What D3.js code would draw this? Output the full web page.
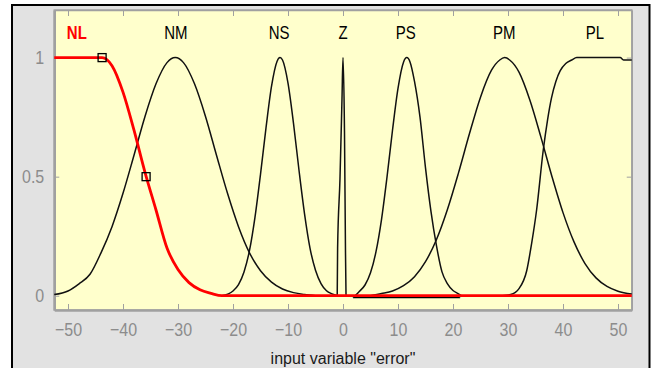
<!DOCTYPE html>
<html>
<head>
<meta charset="utf-8">
<title>input variable error</title>
<script src="https://cdn.jsdelivr.net/npm/d3@7"></script>
<style>
body { margin: 0; background: #fff; }
svg { display: block; font-family: "Liberation Sans", Arial, sans-serif; }
.axis path, .axis line { stroke: #a0a0a0; }
.axis path { stroke-width: 2.5; }
.axis text { fill: #8c8c8c; font-size: 16px; transform: scaleY(1.15); transform-box: fill-box; transform-origin: center; }
.mf { fill: none; stroke: #111; stroke-width: 1.5; }
.mflabel { font-size: 15px; text-anchor: middle; transform: scaleY(1.2); transform-box: fill-box; transform-origin: center; }
</style>
</head>
<body>
<script>
// ticks
var xTicks = [-50, -40, -30, -20, -10, 0, 10, 20, 30, 40, 50];
var yTicks = [0, 0.5, 1];

// membership functions
var mfNames  = ["NL", "NM", "NS", "Z", "PS", "PM", "PL"];
var mfLabelX = [-48.4, -30.4, -11.6, 0, 11.4, 29.3, 45.8];

var nlX = [-52.5, -43.8, -42, -40, -38, -36, -34, -32, -30, -28, -26, -24, -22, 52.5];
var nlY = [1, 1, 0.966, 0.855, 0.695, 0.518, 0.36, 0.2, 0.11, 0.055, 0.025, 0.01, 0, 0];

var nmX = [-52.5, -50, -48, -46, -44, -42, -40, -38, -36, -34, -32, -30.5, -29, -27, -25, -23, -21, -19, -17, -15, -13, -11, -9, -7, -5];
var nmY = [0.005, 0.02, 0.05, 0.09, 0.18, 0.29, 0.43, 0.59, 0.753, 0.89, 0.979, 1, 0.979, 0.89, 0.753, 0.59, 0.43, 0.29, 0.18, 0.105, 0.057, 0.028, 0.013, 0.005, 0];

var nsX = [-22, -20, -19, -18, -17, -16, -15, -14, -13, -12, -11.45, -11, -10, -9, -8, -7, -6, -5, -4, -3, -2, -1];
var nsY = [0, 0.02, 0.047, 0.1, 0.19, 0.33, 0.51, 0.705, 0.879, 0.984, 1, 0.99, 0.893, 0.724, 0.527, 0.345, 0.2, 0.107, 0.051, 0.021, 0.008, 0];

var zX = [-1.05, -0.98, -0.55, -0.18, 0, 0.27, 0.45, 0.55];
var zY = [0, 0.2, 0.49, 0.83, 1, 0.69, 0.19, 0];

var psX = [2.2, 3, 4, 5, 6, 7, 8, 9, 10, 11, 11.6, 12.2, 13, 14, 15, 16, 17, 18, 19, 20, 21, 21.5];
var psY = [0, 0.019, 0.045, 0.096, 0.185, 0.32, 0.498, 0.695, 0.871, 0.981, 1, 0.981, 0.9, 0.75, 0.537, 0.353, 0.209, 0.1, 0.05, 0.022, 0.008, 0];

var pmX = [5, 7, 9, 11, 13, 15, 17, 19, 21, 23, 25, 27, 28.5, 29.4, 30.3, 32, 34, 36, 38, 40, 42, 44, 46, 48, 50, 52.5];
var pmY = [0, 0.009, 0.02, 0.042, 0.08, 0.143, 0.236, 0.363, 0.516, 0.681, 0.834, 0.947, 0.99, 1, 0.99, 0.939, 0.82, 0.665, 0.5, 0.349, 0.226, 0.135, 0.075, 0.039, 0.019, 0.007];

var plX = [29, 30.5, 32, 33.4, 34.3, 35.2, 36.4, 37.2, 37.9, 38.7, 39.5, 40.5, 41.6, 42.5, 50.4, 51, 52.5];
var plY = [0, 0.005, 0.03, 0.105, 0.22, 0.36, 0.61, 0.74, 0.83, 0.9, 0.945, 0.975, 0.99, 1, 1, 0.99, 0.99];

// square handles on the selected (NL) curve
var handleX = [-43.8, -35.8];
var handleY = [1, 0.5];

// highlighted span along zero
var spanX = [1.8, 21.3];

var W = 657, H = 368;
var plot = {left: 54.25, right: 631.75, top: 10, bottom: 310};

var svg = d3.select("body").append("svg").attr("width", W).attr("height", H);

// outer frame
svg.append("rect").attr("x", 12).attr("y", 5).attr("width", 637.5).attr("height", 400)
  .attr("fill", "#e2e2e2").attr("stroke", "#000").attr("stroke-width", 2);

var x = d3.scaleLinear().domain([-52.5, 52.5]).range([plot.left, plot.right]);
var y = d3.scaleLinear().domain([-0.06, 1.2]).range([plot.bottom, plot.top]);

svg.append("rect").attr("x", plot.left).attr("y", plot.top)
  .attr("width", plot.right - plot.left).attr("height", plot.bottom - plot.top)
  .attr("fill", "#ffffcc").attr("stroke", "#a8a8a8").attr("stroke-width", 1.5);

// axes, ticks pointing inwards
svg.append("g").attr("class", "axis")
  .attr("transform", "translate(0," + plot.bottom + ")")
  .call(d3.axisBottom(x).tickValues(xTicks).tickSizeInner(-6).tickSizeOuter(0).tickPadding(14));
svg.append("g").attr("class", "axis")
  .attr("transform", "translate(0," + plot.top + ")")
  .call(d3.axisTop(x).tickValues(xTicks).tickSizeInner(-6).tickSizeOuter(0).tickFormat(""))
  .select(".domain").style("stroke-width", 1.5);
svg.append("g").attr("class", "axis")
  .attr("transform", "translate(" + plot.left + ",0)")
  .call(d3.axisLeft(y).tickValues(yTicks).tickSizeInner(-5).tickSizeOuter(0).tickPadding(10).tickFormat(d3.format("")));
svg.append("g").attr("class", "axis")
  .attr("transform", "translate(" + plot.right + ",0)")
  .call(d3.axisRight(y).tickValues(yTicks).tickSizeInner(-5).tickSizeOuter(0).tickFormat(""))
  .select(".domain").style("stroke-width", 1.5);

var line = d3.line().x(function(d) { return x(d[0]); }).y(function(d) { return y(d[1]); })
  .curve(d3.curveMonotoneX);
function pairs(xs, ys) { return xs.map(function(v, i) { return [v, ys[i]]; }); }

// black span under the zero line
svg.append("line").attr("x1", x(spanX[0])).attr("x2", x(spanX[1]))
  .attr("y1", y(0) + 1.5).attr("y2", y(0) + 1.5)
  .attr("stroke", "#000").attr("stroke-width", 2);
spanX.forEach(function(v) {
  svg.append("rect").attr("x", x(v) - 1).attr("y", y(0) - 0.5).attr("width", 2).attr("height", 2).attr("fill", "#33cccc");
});

var blackMfs = [[nmX, nmY], [nsX, nsY], [zX, zY], [psX, psY], [pmX, pmY], [plX, plY]];
blackMfs.forEach(function(m) {
  svg.append("path").datum(pairs(m[0], m[1])).attr("class", "mf").attr("d", line);
});

svg.append("path").datum(pairs(nlX, nlY)).attr("fill", "none")
  .attr("stroke", "#ff0000").attr("stroke-width", 2.8).attr("d", line);

handleX.forEach(function(v, i) {
  svg.append("rect").attr("x", x(v) - 4).attr("y", y(handleY[i]) - 4)
    .attr("width", 8).attr("height", 8)
    .attr("fill", "none").attr("stroke", "#000").attr("stroke-width", 1.3);
});

// mf names
mfNames.forEach(function(n, i) {
  svg.append("text").attr("class", "mflabel")
    .attr("x", x(mfLabelX[i])).attr("y", 33).attr("dy", "0.35em")
    .attr("fill", i === 0 ? "#ff0000" : "#000")
    .style("font-weight", i === 0 ? "bold" : "normal")
    .text(n);
});

svg.append("text").attr("x", (plot.left + plot.right) / 2).attr("y", 358).attr("dy", "0.35em")
  .attr("text-anchor", "middle").style("font-size", "16px").attr("fill", "#1a1a1a")
  .text('input variable "error"');
</script>
</body>
</html>
